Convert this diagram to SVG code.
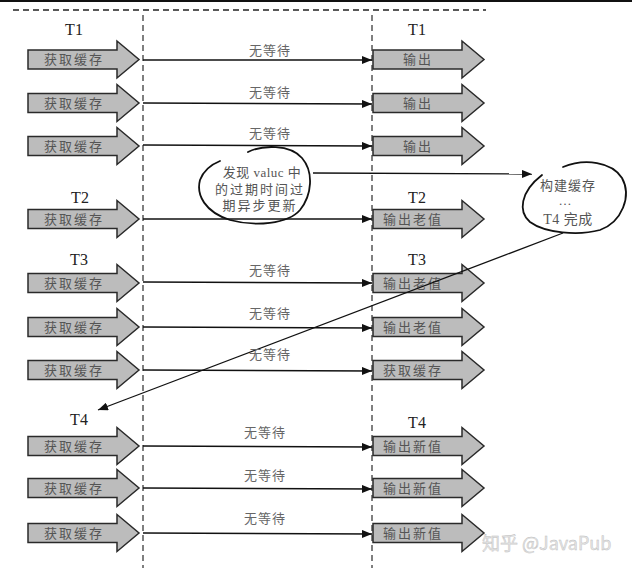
<svg xmlns="http://www.w3.org/2000/svg" width="632" height="568" viewBox="0 0 632 568">
<defs>
<style>
.arr{fill:#bcbcbc;stroke:#2a2a2a;stroke-width:1.5}
.at{font-family:"Noto Sans CJK SC",sans-serif;font-size:13px;fill:#555;letter-spacing:2px}
.nw{font-family:"Noto Sans CJK SC",sans-serif;font-size:13px;fill:#666;letter-spacing:1px;text-anchor:middle}
.tl{font-family:"Liberation Serif",serif;font-size:16px;fill:#222;text-anchor:middle}
.bt{font-family:"Liberation Serif","Noto Sans CJK SC",serif;font-size:13px;fill:#555;text-anchor:middle;letter-spacing:2px}
.ln{stroke:#111;stroke-width:1.3;fill:none}
.vd{stroke:#555;stroke-width:1.5;stroke-dasharray:6 4;fill:none}
.bub{stroke:#111;stroke-width:1.8;fill:none;stroke-linecap:round}
</style>
<path id="ba" d="M0,-9.5 H89 V-18.5 L111,0 L89,18.5 V9.5 H0 Z"/>
<marker id="ah" viewBox="0 0 10 8" refX="10" refY="4" markerWidth="10" markerHeight="8" markerUnits="userSpaceOnUse" orient="auto">
<path d="M0,0 L10,4 L0,8 Z" fill="#111"/>
</marker>
</defs>
<rect width="632" height="568" fill="#fff"/>
<line x1="0" y1="1" x2="632" y2="1" stroke="#111" stroke-width="2"/>
<line x1="13" y1="10" x2="486" y2="10" stroke="#222" stroke-width="1.3" stroke-dasharray="6 4"/>
<line class="vd" x1="143" y1="15" x2="143" y2="568"/>
<line class="vd" x1="372" y1="15" x2="372" y2="568"/>

<g id="labels">
<text class="tl" x="74" y="35">T1</text>
<text class="tl" x="417" y="35">T1</text>
<text class="tl" x="80" y="203">T2</text>
<text class="tl" x="417" y="203">T2</text>
<text class="tl" x="79" y="265">T3</text>
<text class="tl" x="417" y="265">T3</text>
<text class="tl" x="79" y="425">T4</text>
<text class="tl" x="417" y="428">T4</text>
</g>

<g id="left-arrows">
<g id="l1"><use href="#ba" class="arr" transform="translate(28,59.5)"/><text class="at" x="44" y="64">获取缓存</text></g>
<g id="l2"><use href="#ba" class="arr" transform="translate(28,103)"/><text class="at" x="44" y="108">获取缓存</text></g>
<g id="l3"><use href="#ba" class="arr" transform="translate(28,146)"/><text class="at" x="44" y="151">获取缓存</text></g>
<g id="l4"><use href="#ba" class="arr" transform="translate(28,219)"/><text class="at" x="44" y="224">获取缓存</text></g>
<g id="l5"><use href="#ba" class="arr" transform="translate(28,283)"/><text class="at" x="44" y="288">获取缓存</text></g>
<g id="l6"><use href="#ba" class="arr" transform="translate(28,327)"/><text class="at" x="44" y="332">获取缓存</text></g>
<g id="l7"><use href="#ba" class="arr" transform="translate(28,370)"/><text class="at" x="44" y="375">获取缓存</text></g>
<g id="l8"><use href="#ba" class="arr" transform="translate(28,446)"/><text class="at" x="44" y="451">获取缓存</text></g>
<g id="l9"><use href="#ba" class="arr" transform="translate(28,488)"/><text class="at" x="44" y="493">获取缓存</text></g>
<g id="l10"><use href="#ba" class="arr" transform="translate(28,533)"/><text class="at" x="44" y="538">获取缓存</text></g>
</g>

<g id="right-arrows">
<g id="r1"><use href="#ba" class="arr" transform="translate(373,59.5)"/><text class="at" x="403" y="64">输出</text></g>
<g id="r2"><use href="#ba" class="arr" transform="translate(373,103)"/><text class="at" x="403" y="108">输出</text></g>
<g id="r3"><use href="#ba" class="arr" transform="translate(373,146)"/><text class="at" x="403" y="151">输出</text></g>
<g id="r4"><use href="#ba" class="arr" transform="translate(373,219)"/><text class="at" x="383" y="224">输出老值</text></g>
<g id="r5"><use href="#ba" class="arr" transform="translate(373,283)"/><text class="at" x="383" y="288">输出老值</text></g>
<g id="r6"><use href="#ba" class="arr" transform="translate(373,327)"/><text class="at" x="383" y="332">输出老值</text></g>
<g id="r7"><use href="#ba" class="arr" transform="translate(373,370)"/><text class="at" x="383" y="375">获取缓存</text></g>
<g id="r8"><use href="#ba" class="arr" transform="translate(373,446)"/><text class="at" x="383" y="451">输出新值</text></g>
<g id="r9"><use href="#ba" class="arr" transform="translate(373,488)"/><text class="at" x="383" y="493">输出新值</text></g>
<g id="r10"><use href="#ba" class="arr" transform="translate(373,533)"/><text class="at" x="383" y="538">输出新值</text></g>
</g>

<g id="bubble1">
<path class="bub" d="M248,152 C262,145 290,144 302,158 C314,172 312,195 300,210 C288,224 255,227 230,220 C205,212 196,195 200,180 C203,172 210,165 220,161"/>
<text class="bt" x="262" y="177" style="letter-spacing:0.5px">发现 valuc 中</text>
<text class="bt" x="260" y="194">的过期时间过</text>
<text class="bt" x="260" y="210">期异步更新</text>
</g>

<g id="bubble2">
<path class="bub" d="M563,167 C585,158 612,162 622,178 C632,196 622,222 600,230 C578,236 545,233 530,222 C518,212 520,192 542,175"/>
<text class="bt" x="568" y="190" style="letter-spacing:1px">构建缓存</text>
<text class="bt" x="566" y="205">…</text>
<text class="bt" x="568" y="224" style="letter-spacing:0.5px;font-size:14px">T4 完成</text>
</g>

<g id="connectors">
<line class="ln" x1="143" y1="60" x2="372" y2="60" marker-end="url(#ah)"/>
<line class="ln" x1="143" y1="103" x2="372" y2="104" marker-end="url(#ah)"/>
<line class="ln" x1="143" y1="145" x2="372" y2="146" marker-end="url(#ah)"/>
<line class="ln" x1="143" y1="219" x2="372" y2="219" marker-end="url(#ah)"/>
<line class="ln" x1="143" y1="282" x2="372" y2="283" marker-end="url(#ah)"/>
<line class="ln" x1="143" y1="327" x2="372" y2="328" marker-end="url(#ah)"/>
<line class="ln" x1="143" y1="370" x2="372" y2="371" marker-end="url(#ah)"/>
<line class="ln" x1="143" y1="446" x2="372" y2="447" marker-end="url(#ah)"/>
<line class="ln" x1="143" y1="488" x2="372" y2="489" marker-end="url(#ah)"/>
<line class="ln" x1="143" y1="533" x2="372" y2="534" marker-end="url(#ah)"/>
<line class="ln" x1="313" y1="173" x2="532" y2="174" marker-end="url(#ah)"/>
<line class="ln" x1="563" y1="233" x2="98" y2="410" marker-end="url(#ah)"/>
<text class="nw" x="270" y="55">无等待</text>
<text class="nw" x="270" y="97">无等待</text>
<text class="nw" x="270" y="138">无等待</text>
<text class="nw" x="270" y="275">无等待</text>
<text class="nw" x="270" y="318">无等待</text>
<text class="nw" x="270" y="359">无等待</text>
<text class="nw" x="265" y="437">无等待</text>
<text class="nw" x="265" y="480">无等待</text>
<text class="nw" x="265" y="523">无等待</text>
</g>

<text x="482" y="550" font-family="'Noto Sans CJK SC',sans-serif" font-size="18" fill="#e6e6e6" stroke="#bbb" stroke-width="0.4">知乎 @JavaPub</text>
</svg>
